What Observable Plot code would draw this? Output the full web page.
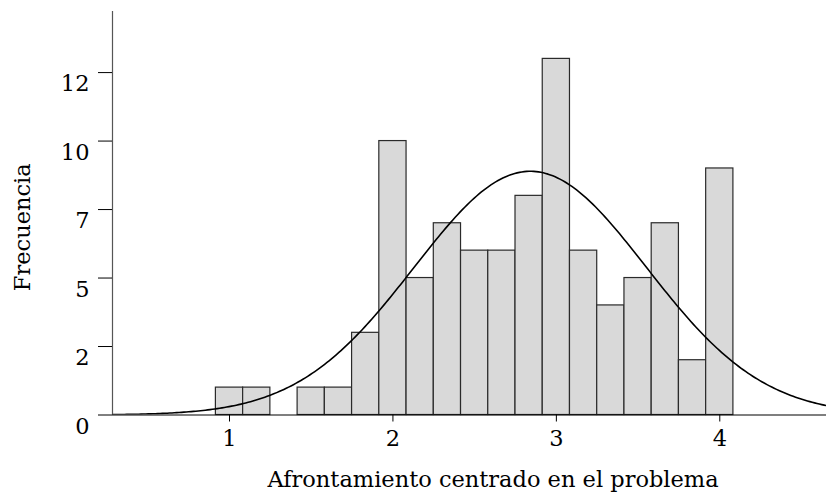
<!DOCTYPE html>
<html>
<head>
<meta charset="utf-8">
<script src="https://cdn.jsdelivr.net/npm/d3@7"></script>
<script src="https://cdn.jsdelivr.net/npm/@observablehq/plot@0.6"></script>
<style>
  html, body { margin: 0; padding: 0; background: #fff; }
  #chart svg { display: block; }
</style>
</head>
<body>
<div id="chart"></div>
<script>
// Histogram bins: centers (width 1/6) and counts
const binCenters = [1, 7/6, 4/3, 1.5, 5/3, 11/6, 2, 13/6, 7/3, 2.5, 8/3, 17/6, 3, 19/6, 10/3, 3.5, 11/3, 23/6, 4];
const binCounts  = [1, 1,   0,   1,   1,   3,    10, 5,    7,   6,   6,   8,    13, 6,    4,    5,   7,    2,    9];
const binWidth = 1/6;

// Axis ticks (SPSS-style truncated labels)
const yTickValues = [0, 2.5, 5, 7.5, 10, 12.5];
const yTickLabels = ["0", "2", "5", "7", "10", "12"];
const xTickValues = [1, 2, 3, 4];

const xTitle = "Afrontamiento centrado en el problema";
const yTitle = "Frecuencia";

const bins = binCenters.map((c, i) => ({x1: c - binWidth/2, x2: c + binWidth/2, count: binCounts[i]}))
  .filter(d => d.count > 0);

// Normal curve fitted to the histogram (mean and sd of the binned data)
const N = d3.sum(binCounts);
const mean = d3.sum(binCenters, (c, i) => c * binCounts[i]) / N;
const variance = d3.sum(binCenters, (c, i) => binCounts[i] * (c - mean) ** 2) / (N - 1);
const sd = Math.sqrt(variance);
const xDomain = [0.284, 4.653];
const yTop = 14.73;
const curve = d3.range(0, 301).map(i => {
  const x = xDomain[0] + (xDomain[1] - xDomain[0]) * i / 300;
  const y = N * binWidth / (sd * Math.sqrt(2 * Math.PI)) * Math.exp(-0.5 * ((x - mean) / sd) ** 2);
  return {x, y};
});

const FS = 22.5;

const chart = Plot.plot({
  width: 826,
  height: 500,
  marginLeft: 112,
  marginRight: 0,
  marginTop: 11,
  marginBottom: 85.5,
  style: {fontFamily: "'DejaVu Serif', serif", fontSize: FS + "px", color: "#000", background: "#fff"},
  x: {domain: xDomain},
  y: {domain: [0, yTop]},
  marks: [
    Plot.rectY(bins, {x1: "x1", x2: "x2", y: "count", fill: "#d9d9d9", stroke: "#2a2a2a", strokeWidth: 1.2, insetLeft: 0, insetRight: 0}),
    Plot.line(curve, {x: "x", y: "y", stroke: "#000", strokeWidth: 1.6, clip: true}),
    Plot.ruleX([xDomain[0]], {y1: 0, y2: yTop, stroke: "#555", strokeWidth: 1.2}),
    Plot.ruleY([0], {stroke: "#000", strokeWidth: 1.2}),
    Plot.axisY(yTickValues, {tickSize: 14, tickFormat: () => "", label: null, stroke: "#000"}),
    Plot.text(yTickValues, {frameAnchor: "left", y: d => d, text: (d, i) => yTickLabels[i], textAnchor: "end", dx: -23, dy: 11.5, fontSize: FS, fill: "#000"}),
    Plot.axisX(xTickValues, {tickSize: 7, tickPadding: 8, tickFormat: d => String(d), label: null, stroke: "#000", fill: "#000", fontSize: FS}),
    Plot.text([xTitle], {frameAnchor: "bottom", textAnchor: "middle", dx: 23.5, dy: 72, fontSize: FS, fill: "#000"}),
    Plot.text([yTitle], {frameAnchor: "left", textAnchor: "middle", dx: -90, dy: 14, rotate: -90, fontSize: FS, fill: "#000"})
  ]
});
document.getElementById("chart").appendChild(chart);
</script>
</body>
</html>
